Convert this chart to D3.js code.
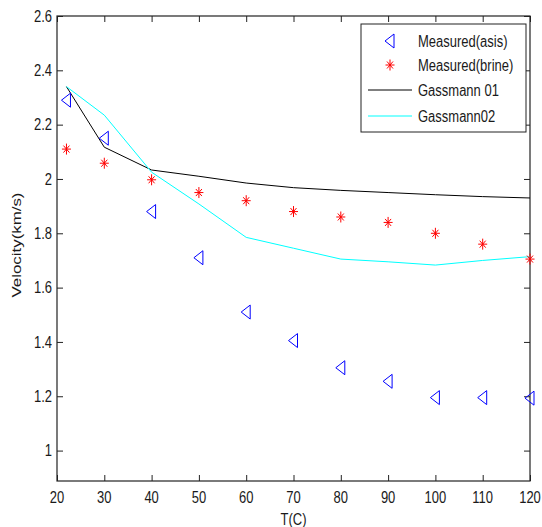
<!DOCTYPE html>
<html><head><meta charset="utf-8">
<script src="https://cdn.jsdelivr.net/npm/d3@7"></script>
<style>body{margin:0;background:#fff}svg{display:block}text{font-family:"Liberation Sans",Arial,sans-serif;fill:#1a1a1a}</style>
</head><body><div id="chart"></div>
<script>
const temps = [22, 30, 40, 50, 60, 70, 80, 90, 100, 110, 120];
const measuredAsis = [2.29, 2.15, 1.88, 1.71, 1.51, 1.405, 1.305, 1.255, 1.195, 1.195, 1.193];
const measuredBrine = [2.11, 2.058, 1.997, 1.95, 1.92, 1.88, 1.86, 1.84, 1.80, 1.76, 1.705];
const gassmann01 = [2.34, 2.117, 2.033, 2.01, 1.985, 1.968, 1.958, 1.95, 1.942, 1.935, 1.93];
const gassmann02 = [2.34, 2.235, 2.025, 1.908, 1.785, 1.745, 1.705, 1.695, 1.683, 1.70, 1.714];
const xTicks = [20, 30, 40, 50, 60, 70, 80, 90, 100, 110, 120];
const yTicks = [1, 1.2, 1.4, 1.6, 1.8, 2, 2.2, 2.4, 2.6];
const legendLabels = ["Measured(asis)", "Measured(brine)", "Gassmann 01", "Gassmann02"];

const W = 542, H = 527;
const m = {left: 57, top: 16, right: 530, bottom: 481};
const S = 1.25; // vertical stretch of text in the reference
const svg = d3.select("#chart").append("svg").attr("width", W).attr("height", H);
const x = d3.scaleLinear().domain([20, 120]).range([m.left, m.right]);
const y = d3.scaleLinear().domain([0.888, 2.6]).range([m.bottom, m.top]);

const tl = 6;
const axisCol = "#222";
const gb = svg.append("g").attr("transform", `translate(0,${m.bottom})`)
  .call(d3.axisBottom(x).tickValues(xTicks).tickSizeInner(-tl).tickSizeOuter(0).tickFormat(""));
const gt = svg.append("g").attr("transform", `translate(0,${m.top})`)
  .call(d3.axisTop(x).tickValues(xTicks).tickSizeInner(-tl).tickSizeOuter(0).tickFormat(""));
const gl = svg.append("g").attr("transform", `translate(${m.left},0)`)
  .call(d3.axisLeft(y).tickValues(yTicks).tickSizeInner(-tl).tickSizeOuter(0).tickFormat(""));
const gr = svg.append("g").attr("transform", `translate(${m.right},0)`)
  .call(d3.axisRight(y).tickValues(yTicks).tickSizeInner(-tl).tickSizeOuter(0).tickFormat(""));
[gb, gt, gl, gr].forEach(g => {
  g.select(".domain").remove();
  g.selectAll(".tick line").attr("stroke", axisCol);
  g.selectAll("text").remove();
});
svg.append("rect").attr("x", m.left).attr("y", m.top).attr("width", m.right - m.left).attr("height", m.bottom - m.top)
  .attr("fill", "none").attr("stroke", axisCol).attr("stroke-width", 1.2);

function label(cx, cy, txt, anchor, size, rot) {
  const g = svg.append("g").attr("transform", `translate(${cx},${cy}) scale(1,${S})` + (rot ? ` rotate(${rot})` : ""));
  g.append("text").attr("text-anchor", anchor).attr("dy", "0.35em").style("font-size", size + "px").text(txt);
  return g;
}
xTicks.forEach(t => label(x(t), 497, d3.format("d")(t), "middle", 13));
yTicks.forEach(t => label(52, y(t), String(t), "end", 13));

const line = vals => d3.line().x((d, i) => x(temps[i])).y(d => y(d))(vals);
svg.append("path").attr("d", line(gassmann01)).attr("fill", "none").attr("stroke", "#000").attr("stroke-width", 1);
svg.append("path").attr("d", line(gassmann02)).attr("fill", "none").attr("stroke", "#00ffff").attr("stroke-width", 1);

function tri(g, cx, cy) {
  g.append("path").attr("d", `M${cx - 5},${cy} L${cx + 4},${cy - 7} L${cx + 4},${cy + 7} Z`)
    .attr("fill", "none").attr("stroke", "#0000ff").attr("stroke-width", 1);
}
function star(g, cx, cy) {
  const r = 4.5, rv = 5.5, r2 = 3, r2v = 3.5;
  g.append("path").attr("d", `M${cx - r},${cy}H${cx + r}M${cx},${cy - rv}V${cy + rv}M${cx - r2},${cy - r2v}L${cx + r2},${cy + r2v}M${cx - r2},${cy + r2v}L${cx + r2},${cy - r2v}`)
    .attr("stroke", "#ff0000").attr("stroke-width", 1).attr("fill", "none");
}
const ga = svg.append("g");
measuredAsis.forEach((v, i) => tri(ga, x(temps[i]), y(v)));
const gs = svg.append("g");
measuredBrine.forEach((v, i) => star(gs, x(temps[i]), y(v)));

const lg = svg.append("g");
lg.append("rect").attr("x", 361).attr("y", 24).attr("width", 165).attr("height", 108)
  .attr("fill", "#fff").attr("stroke", axisCol).attr("stroke-width", 1);
const rowsY = [41, 65, 90, 116];
tri(lg, 390, rowsY[0]);
star(lg, 390, rowsY[1]);
lg.append("line").attr("x1", 368).attr("x2", 412).attr("y1", rowsY[2]).attr("y2", rowsY[2]).attr("stroke", "#000");
lg.append("line").attr("x1", 368).attr("x2", 412).attr("y1", rowsY[3]).attr("y2", rowsY[3]).attr("stroke", "#00ffff");
legendLabels.forEach((t, i) => label(418, rowsY[i], t, "start", 13));

label((m.left + m.right) / 2, 519, "T(C)", "middle", 13);
label(16, 245, "Velocity(km/s)", "middle", 13.5, -90);
</script></body></html>
